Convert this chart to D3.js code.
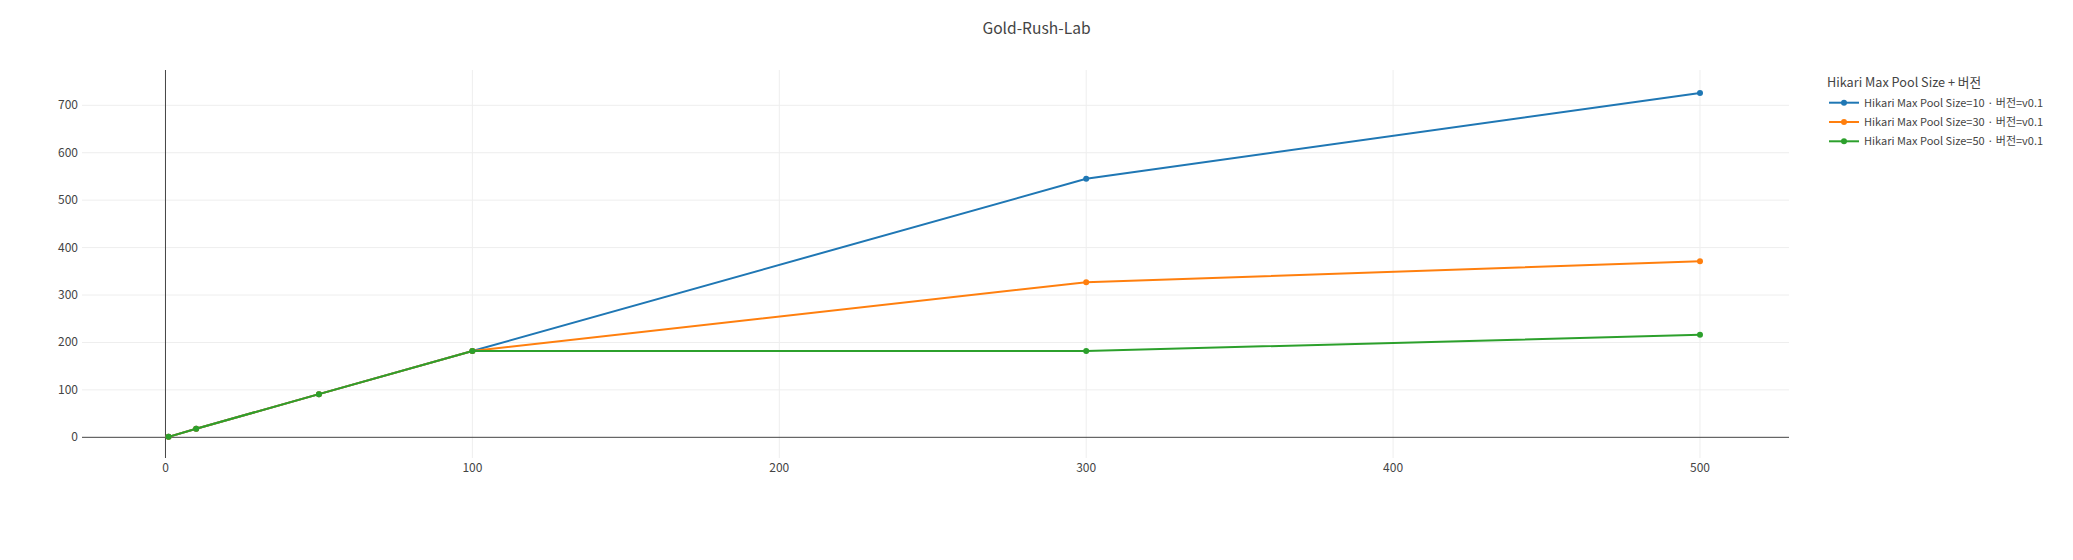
<!DOCTYPE html>
<html>
<head>
<meta charset="utf-8">
<script src="https://cdn.jsdelivr.net/npm/d3@7"></script>
<style>
  body { margin: 0; background: #fff; }
  svg text { font-family: "Noto Sans CJK KR", "Noto Sans", sans-serif; fill: #444; }
</style>
</head>
<body>
<div id="chart"></div>
<script>
// series data
const seriesNames = [
  "Hikari Max Pool Size=10 · 버전=v0.1",
  "Hikari Max Pool Size=30 · 버전=v0.1",
  "Hikari Max Pool Size=50 · 버전=v0.1"
];
const xValues = [1, 10, 50, 100, 300, 500];
const pool10 = [1, 18, 91, 182, 545, 726];
const pool30 = [1, 18, 91, 182, 327, 371];
const pool50 = [1, 18, 91, 182, 182, 216];
const colors = ["#1f77b4", "#ff7f0e", "#2ca02c"];
const xTicks = [0, 100, 200, 300, 400, 500];
const yTicks = [0, 100, 200, 300, 400, 500, 600, 700];

const width = 2073, height = 560;
const plot = { left: 82, right: 1789, top: 70, bottom: 458 };

const svg = d3.select("#chart").append("svg")
  .attr("width", width)
  .attr("height", height);

const x = d3.scaleLinear().domain([-27.2, 529]).range([plot.left, plot.right]);
const y = d3.scaleLinear().domain([-43.6, 774.4]).range([plot.bottom, plot.top]);

// grid
svg.append("g").selectAll("line")
  .data(xTicks.filter(d => d !== 0))
  .join("line")
  .attr("x1", d => x(d)).attr("x2", d => x(d))
  .attr("y1", plot.top).attr("y2", plot.bottom)
  .attr("stroke", "#eeeeee").attr("stroke-width", 1);

svg.append("g").selectAll("line")
  .data(yTicks.filter(d => d !== 0))
  .join("line")
  .attr("x1", plot.left).attr("x2", plot.right)
  .attr("y1", d => y(d)).attr("y2", d => y(d))
  .attr("stroke", "#eeeeee").attr("stroke-width", 1);

// zero lines
svg.append("line")
  .attr("x1", x(0)).attr("x2", x(0))
  .attr("y1", plot.top).attr("y2", plot.bottom)
  .attr("stroke", "#444").attr("stroke-width", 1);
svg.append("line")
  .attr("x1", plot.left).attr("x2", plot.right)
  .attr("y1", y(0)).attr("y2", y(0))
  .attr("stroke", "#444").attr("stroke-width", 1);

// tick labels
svg.append("g").selectAll("text")
  .data(xTicks)
  .join("text")
  .attr("x", d => x(d))
  .attr("y", 472)
  .attr("text-anchor", "middle")
  .attr("font-size", 12)
  .text(d => d);

svg.append("g").selectAll("text")
  .data(yTicks)
  .join("text")
  .attr("x", 78)
  .attr("y", d => y(d) + 4)
  .attr("text-anchor", "end")
  .attr("font-size", 12)
  .text(d => d);

// lines + markers
const allSeries = [pool10, pool30, pool50];
const line = d3.line().x((d, i) => x(xValues[i])).y(d => y(d));

const plotArea = svg.append("g");
allSeries.forEach((vals, k) => {
  const g = plotArea.append("g");
  g.append("path")
    .datum(vals)
    .attr("d", line)
    .attr("fill", "none")
    .attr("stroke", colors[k])
    .attr("stroke-width", 2);
  g.selectAll("circle")
    .data(vals)
    .join("circle")
    .attr("cx", (d, i) => x(xValues[i]))
    .attr("cy", d => y(d))
    .attr("r", 3)
    .attr("fill", colors[k]);
});

// title
svg.append("text")
  .attr("x", width / 2)
  .attr("y", 34)
  .attr("text-anchor", "middle")
  .attr("font-size", 15.6)
  .text("Gold-Rush-Lab");

// legend
const legend = svg.append("g").attr("transform", "translate(1827,0)");
legend.append("text")
  .attr("x", 0).attr("y", 87)
  .attr("font-size", 12.7)
  .text("Hikari Max Pool Size + 버전");

const legendY = [102.7, 122, 141.3];
seriesNames.forEach((name, k) => {
  const item = legend.append("g").attr("transform", `translate(2,${legendY[k]})`);
  item.append("line")
    .attr("x1", 0).attr("x2", 30)
    .attr("stroke", colors[k]).attr("stroke-width", 2);
  item.append("circle")
    .attr("cx", 15).attr("r", 3).attr("fill", colors[k]);
  item.append("text")
    .attr("x", 35).attr("y", 4)
    .attr("font-size", 11)
    .text(name);
});
</script>
</body>
</html>
